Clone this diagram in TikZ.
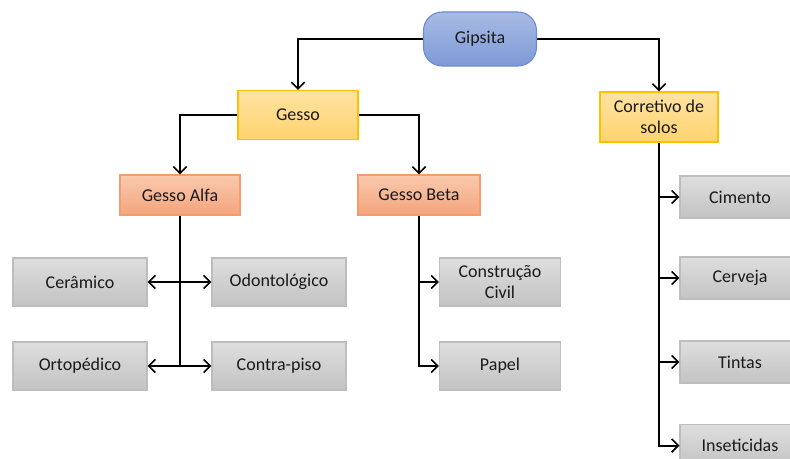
\documentclass[tikz,border=0pt]{standalone}
\usepackage{fontspec}
\setmainfont{Carlito}
\usetikzlibrary{arrows.meta}
\definecolor{txt}{HTML}{1A1A1A}
\definecolor{bluetop}{HTML}{A8BBE4}
\definecolor{bluebot}{HTML}{7E9AD6}
\definecolor{blueline}{HTML}{6A8BD2}
\definecolor{yeltop}{HTML}{FFE3A3}
\definecolor{yelbot}{HTML}{FFD36E}
\definecolor{yelline}{HTML}{FFC000}
\definecolor{ortop}{HTML}{F9C9AE}
\definecolor{orbot}{HTML}{F4A47C}
\definecolor{orline}{HTML}{F39C6E}
\definecolor{grtop}{HTML}{DEDEDE}
\definecolor{grbot}{HTML}{C3C3C3}
\definecolor{grline}{HTML}{BDBDBD}
\tikzset{
  base/.style={draw, line width=0.8pt, text=txt, align=center, inner sep=1pt,
    font=\fontsize{13.5pt}{15.5pt}\selectfont},
  sz/.style 2 args={minimum width=#1*0.75pt, minimum height=#2*0.75pt},
  bluebox/.style={base, draw=blueline, top color=bluetop, bottom color=bluebot, rounded corners=14pt},
  yelbox/.style={base, draw=yelline, top color=yeltop, bottom color=yelbot},
  orbox/.style={base, draw=orline, top color=ortop, bottom color=orbot},
  grbox/.style={base, draw=grline, top color=grtop, bottom color=grbot},
  lin/.style={line width=1.5pt, black},
  conn/.style={lin, -{Straight Barb[length=5pt,width=10pt,line width=1.2pt]}},
  connt/.style={line width=0.8pt, black, -{Straight Barb[length=5pt,width=10pt,line width=1.2pt]}},
}
\begin{document}
\begin{tikzpicture}[x=0.75pt,y=-0.75pt]
\clip (0,0) rectangle (790,459);
\useasboundingbox (0,0) rectangle (790,459);
\fill[white] (0,0) rectangle (790,459);

\node[bluebox, sz={113}{54}] (gip) at (480,39) {Gipsita};
\node[yelbox, sz={120}{49}] (gesso) at (298,115) {Gesso};
\node[yelbox, sz={118}{50}] (corr) at (659,117) {Corretivo de\\solos};
\node[orbox, sz={120}{40}] (alfa) at (180,195) {Gesso Alfa};
\node[orbox, sz={122}{40}] (beta) at (419,195) {Gesso Beta};

\node[grbox, sz={134}{48}] (cer) at (80,282) {Cerâmico};
\node[grbox, sz={134}{48}] (odo) at (279,282) {Odontológico};
\node[grbox, sz={134}{48}] (ort) at (80,366) {Ortopédico};
\node[grbox, sz={134}{48}] (con) at (279,366) {Contra-piso};
\node[grbox, sz={121}{48}] (cc) at (500,282) {Construção\\Civil};
\node[grbox, sz={121}{48}] (pap) at (500,366) {Papel};

\node[grbox, sz={120}{42}] (cim) at (740,197) {Cimento};
\node[grbox, sz={120}{42}] (cer2) at (740,278) {Cerveja};
\node[grbox, sz={120}{42}] (tin) at (740,362) {Tintas};
\node[grbox, sz={120}{42}, anchor=north] (ins) at (740,424) {Inseticidas};

\draw[conn] (gip.west) -| (gesso.north);
\draw[conn] (gip.east) -| (corr.north);
\draw[conn] (gesso.west) -| (alfa.north);
\draw[conn] (gesso.east) -| (beta.north);

\coordinate (a1) at (alfa.south |- cer.east);
\coordinate (a2) at (alfa.south |- ort.east);
\draw[lin] (alfa.south) -- (a2);
\draw[conn] (a1) -- (cer.east);
\draw[conn] (a1) -- (odo.west);
\draw[connt] (a2) -- (ort.east);
\draw[connt] (a2) -- (con.west);

\coordinate (b1) at (beta.south |- cc.west);
\draw[conn] (beta.south) |- (pap.west);
\draw[conn] (b1) -- (cc.west);

\coordinate (c1) at (corr.south |- cim.west);
\coordinate (c2) at (corr.south |- cer2.west);
\coordinate (c3) at (corr.south |- tin.west);
\draw[conn] (corr.south) |- (ins.west);
\draw[conn] (c1) -- (cim.west);
\draw[conn] (c2) -- (cer2.west);
\draw[conn] (c3) -- (tin.west);
\end{tikzpicture}
\end{document}
